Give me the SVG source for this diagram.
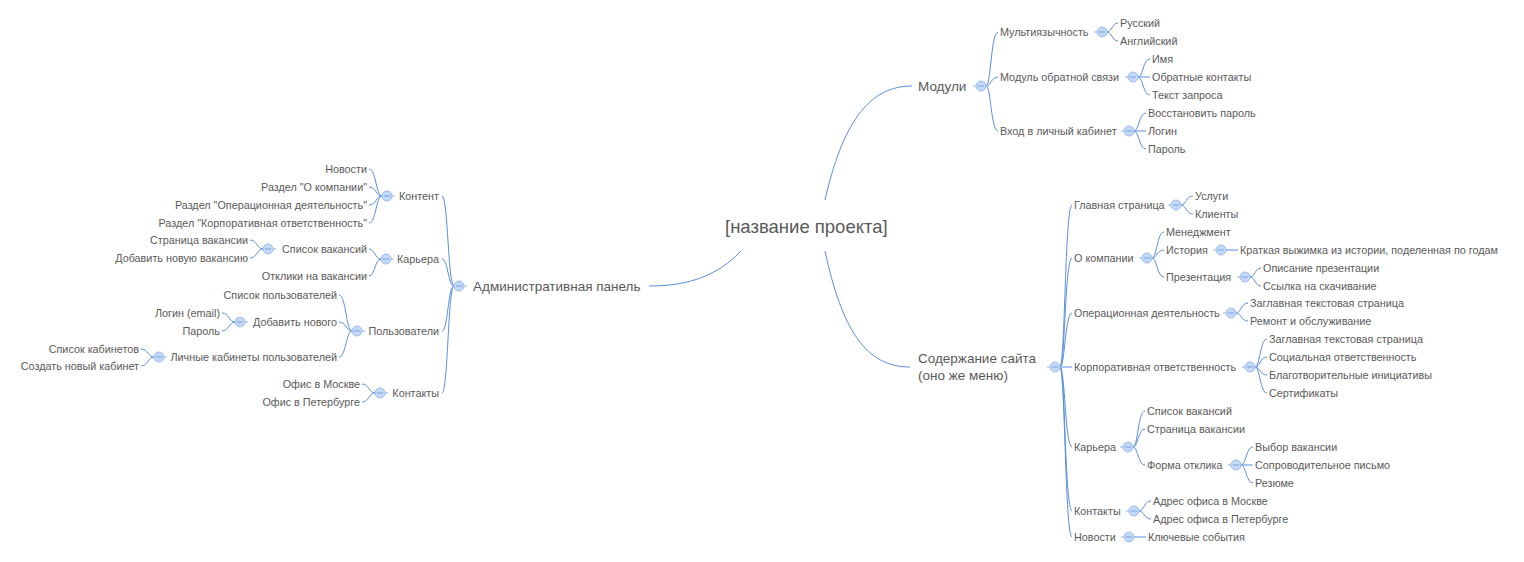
<svg xmlns="http://www.w3.org/2000/svg" width="1524" height="562" viewBox="0 0 1524 562">
<defs>
<style>
text{font-family:"Liberation Sans",Arial,sans-serif;fill:#5a5a5a}
.t{font-size:10.8px}
.m{font-size:13.5px}
.c{font-size:18.5px}
.r{text-anchor:end}
.ln{fill:none;stroke:#5a8fe0;stroke-width:1}
.stub{stroke:#8fb2ea;stroke-width:1}
.btn{fill:#c4d9f8;stroke:#9dbcef;stroke-width:1}
.minus{stroke:#7a9fdc;stroke-width:1}
</style>
<g id="tg">
<line class="stub" x1="-8" y1="0" x2="6" y2="0"/>
<circle class="btn" cx="0" cy="0" r="5"/>
<line class="minus" x1="-3" y1="0" x2="3" y2="0"/>
</g>
<g id="tgL">
<line class="stub" x1="-6" y1="0" x2="8" y2="0"/>
<circle class="btn" cx="0" cy="0" r="5"/>
<line class="minus" x1="-3" y1="0" x2="3" y2="0"/>
</g>
</defs>
<rect width="1524" height="562" fill="#ffffff"/>

<g id="connectors">
<path class="ln" d="M825 200 C842 125 868 86 912 86"/>
<path class="ln" d="M825 251 C842 330 866 367 910 367"/>
<path class="ln" d="M741 251 C718 275 690 286 649 286"/>
<path class="ln" d="M986 86 C991 86 991 32 998 32"/>
<path class="ln" d="M986 86 C991 86 991 77 998 77"/>
<path class="ln" d="M986 86 C991 86 991 131 998 131"/>
<path class="ln" d="M1107 32 C1112 32 1112 23 1118 23"/>
<path class="ln" d="M1107 32 C1112 32 1112 41 1118 41"/>
<path class="ln" d="M1138 77 C1143 77 1143 59 1150 59"/>
<path class="ln" d="M1138 77 L1150 77"/>
<path class="ln" d="M1138 77 C1143 77 1143 95 1150 95"/>
<path class="ln" d="M1134 131 C1139 131 1139 113 1146 113"/>
<path class="ln" d="M1134 131 L1146 131"/>
<path class="ln" d="M1134 131 C1139 131 1139 149 1146 149"/>
<path class="ln" d="M1060 367 C1065 367 1065 205 1072 205"/>
<path class="ln" d="M1060 367 C1065 367 1065 258 1072 258"/>
<path class="ln" d="M1060 367 C1065 367 1065 313 1072 313"/>
<path class="ln" d="M1060 367 L1072 367"/>
<path class="ln" d="M1060 367 C1065 367 1065 447 1072 447"/>
<path class="ln" d="M1060 367 C1065 367 1065 511 1072 511"/>
<path class="ln" d="M1060 367 C1065 367 1065 537 1072 537"/>
<path class="ln" d="M1181 205 C1186 205 1186 196 1193 196"/>
<path class="ln" d="M1181 205 C1186 205 1186 214 1193 214"/>
<path class="ln" d="M1152 258 C1157 258 1157 232 1164 232"/>
<path class="ln" d="M1152 258 C1157 258 1157 250 1164 250"/>
<path class="ln" d="M1152 258 C1157 258 1157 277 1164 277"/>
<path class="ln" d="M1226 250 L1238 250"/>
<path class="ln" d="M1250 277 C1255 277 1255 268 1261 268"/>
<path class="ln" d="M1250 277 C1255 277 1255 286 1261 286"/>
<path class="ln" d="M1236 313 C1241 313 1241 303 1248 303"/>
<path class="ln" d="M1236 313 C1241 313 1241 321 1248 321"/>
<path class="ln" d="M1255 367 C1260 367 1260 339 1267 339"/>
<path class="ln" d="M1255 367 C1260 367 1260 357 1267 357"/>
<path class="ln" d="M1255 367 C1260 367 1260 375 1267 375"/>
<path class="ln" d="M1255 367 C1260 367 1260 393 1267 393"/>
<path class="ln" d="M1133 447 C1138 447 1138 411 1145 411"/>
<path class="ln" d="M1133 447 C1138 447 1138 429 1145 429"/>
<path class="ln" d="M1133 447 C1138 447 1138 465 1145 465"/>
<path class="ln" d="M1241 465 C1246 465 1246 447 1253 447"/>
<path class="ln" d="M1241 465 L1253 465"/>
<path class="ln" d="M1241 465 C1246 465 1246 483 1253 483"/>
<path class="ln" d="M1139 511 C1144 511 1144 501 1151 501"/>
<path class="ln" d="M1139 511 C1144 511 1144 519 1151 519"/>
<path class="ln" d="M1134 537 L1146 537"/>
<path class="ln" d="M454 286 C448 286 448 196 442 196"/>
<path class="ln" d="M454 286 C448 286 448 259 442 259"/>
<path class="ln" d="M454 286 C448 286 448 331 442 331"/>
<path class="ln" d="M454 286 C448 286 448 393 442 393"/>
<path class="ln" d="M382 196 C376 196 376 169 369 169"/>
<path class="ln" d="M382 196 C376 196 376 187 369 187"/>
<path class="ln" d="M382 196 C376 196 376 205 369 205"/>
<path class="ln" d="M382 196 C376 196 376 223 369 223"/>
<path class="ln" d="M381 259 C375 259 375 249 369 249"/>
<path class="ln" d="M381 259 C375 259 375 276 369 276"/>
<path class="ln" d="M263 249 C257 249 257 240 250 240"/>
<path class="ln" d="M263 249 C257 249 257 258 250 258"/>
<path class="ln" d="M352 331 C346 331 346 295 339 295"/>
<path class="ln" d="M352 331 C346 331 346 322 339 322"/>
<path class="ln" d="M352 331 C346 331 346 357 339 357"/>
<path class="ln" d="M235 322 C229 322 229 313 222 313"/>
<path class="ln" d="M235 322 C229 322 229 331 222 331"/>
<path class="ln" d="M154 357 C148 357 148 349 141 349"/>
<path class="ln" d="M154 357 C148 357 148 366 141 366"/>
<path class="ln" d="M375 393 C369 393 369 384 362 384"/>
<path class="ln" d="M375 393 C369 393 369 402 362 402"/>
</g>

<g id="root"><text class="c" x="725" y="233">[название проекта]</text></g>

<g id="n-moduli"><text class="m" x="918" y="91">Модули</text><use href="#tg" x="981" y="86"/></g>
<g id="n-multi"><text class="t" x="1000" y="36">Мультиязычность</text><use href="#tg" x="1102" y="32"/></g>
<g id="n-ru"><text class="t" x="1120" y="27">Русский</text></g>
<g id="n-en"><text class="t" x="1120" y="45">Английский</text></g>
<g id="n-feedback"><text class="t" x="1000" y="81">Модуль обратной связи</text><use href="#tg" x="1133" y="77"/></g>
<g id="n-name"><text class="t" x="1152" y="63">Имя</text></g>
<g id="n-contacts-back"><text class="t" x="1152" y="81">Обратные контакты</text></g>
<g id="n-req"><text class="t" x="1152" y="99">Текст запроса</text></g>
<g id="n-login"><text class="t" x="1000" y="135">Вход в личный кабинет</text><use href="#tg" x="1129" y="131"/></g>
<g id="n-restore"><text class="t" x="1148" y="117">Восстановить пароль</text></g>
<g id="n-login2"><text class="t" x="1148" y="135">Логин</text></g>
<g id="n-pass"><text class="t" x="1148" y="153">Пароль</text></g>

<g id="n-content"><text class="m" x="918" y="363">Содержание сайта</text><text class="m" x="918" y="380">(оно же меню)</text><use href="#tg" x="1055" y="367"/></g>
<g id="n-main"><text class="t" x="1074" y="209">Главная страница</text><use href="#tg" x="1176" y="205"/></g>
<g id="n-services"><text class="t" x="1195" y="200">Услуги</text></g>
<g id="n-clients"><text class="t" x="1195" y="218">Клиенты</text></g>
<g id="n-about"><text class="t" x="1074" y="262">О компании</text><use href="#tg" x="1147" y="258"/></g>
<g id="n-mgmt"><text class="t" x="1166" y="236">Менеджмент</text></g>
<g id="n-history"><text class="t" x="1166" y="254">История</text><use href="#tg" x="1221" y="250"/></g>
<g id="n-history-sum"><text class="t" x="1240" y="254">Краткая выжимка из истории, поделенная по годам</text></g>
<g id="n-pres"><text class="t" x="1166" y="281">Презентация</text><use href="#tg" x="1245" y="277"/></g>
<g id="n-pres-desc"><text class="t" x="1263" y="272">Описание презентации</text></g>
<g id="n-pres-link"><text class="t" x="1263" y="290">Ссылка на скачивание</text></g>
<g id="n-ops"><text class="t" x="1074" y="317">Операционная деятельность</text><use href="#tg" x="1231" y="313"/></g>
<g id="n-ops-title"><text class="t" x="1250" y="307">Заглавная текстовая страница</text></g>
<g id="n-ops-repair"><text class="t" x="1250" y="325">Ремонт и обслуживание</text></g>
<g id="n-csr"><text class="t" x="1074" y="371">Корпоративная ответственность</text><use href="#tg" x="1250" y="367"/></g>
<g id="n-csr-title"><text class="t" x="1269" y="343">Заглавная текстовая страница</text></g>
<g id="n-csr-social"><text class="t" x="1269" y="361">Социальная ответственность</text></g>
<g id="n-csr-charity"><text class="t" x="1269" y="379">Благотворительные инициативы</text></g>
<g id="n-csr-cert"><text class="t" x="1269" y="397">Сертификаты</text></g>
<g id="n-career"><text class="t" x="1074" y="451">Карьера</text><use href="#tg" x="1128" y="447"/></g>
<g id="n-vac-list"><text class="t" x="1147" y="415">Список вакансий</text></g>
<g id="n-vac-page"><text class="t" x="1147" y="433">Страница вакансии</text></g>
<g id="n-form"><text class="t" x="1147" y="469">Форма отклика</text><use href="#tg" x="1236" y="465"/></g>
<g id="n-form-choice"><text class="t" x="1255" y="451">Выбор вакансии</text></g>
<g id="n-form-letter"><text class="t" x="1255" y="469">Сопроводительное письмо</text></g>
<g id="n-form-cv"><text class="t" x="1255" y="487">Резюме</text></g>
<g id="n-contacts"><text class="t" x="1074" y="515">Контакты</text><use href="#tg" x="1134" y="511"/></g>
<g id="n-addr-msk"><text class="t" x="1153" y="505">Адрес офиса в Москве</text></g>
<g id="n-addr-spb"><text class="t" x="1153" y="523">Адрес офиса в Петербурге</text></g>
<g id="n-news"><text class="t" x="1074" y="541">Новости</text><use href="#tg" x="1129" y="537"/></g>
<g id="n-events"><text class="t" x="1148" y="541">Ключевые события</text></g>

<g id="n-admin"><text class="m" x="473" y="291">Административная панель</text><use href="#tgL" x="459" y="286"/></g>
<g id="n-a-content"><text class="t r" x="439" y="200">Контент</text><use href="#tgL" x="387" y="196"/></g>
<g id="n-a-news"><text class="t r" x="367" y="173">Новости</text></g>
<g id="n-a-about"><text class="t r" x="367" y="191">Раздел "О компании"</text></g>
<g id="n-a-ops"><text class="t r" x="367" y="209">Раздел "Операционная деятельность"</text></g>
<g id="n-a-csr"><text class="t r" x="367" y="227">Раздел "Корпоративная ответственность"</text></g>
<g id="n-a-career"><text class="t r" x="439" y="263">Карьера</text><use href="#tgL" x="386" y="259"/></g>
<g id="n-a-vac"><text class="t r" x="367" y="253">Список вакансий</text><use href="#tgL" x="268" y="249"/></g>
<g id="n-a-vac-page"><text class="t r" x="248" y="244">Страница вакансии</text></g>
<g id="n-a-vac-add"><text class="t r" x="248" y="262">Добавить новую вакансию</text></g>
<g id="n-a-resp"><text class="t r" x="367" y="280">Отклики на вакансии</text></g>
<g id="n-a-users"><text class="t r" x="439" y="335">Пользователи</text><use href="#tgL" x="357" y="331"/></g>
<g id="n-a-ulist"><text class="t r" x="337" y="299">Список пользователей</text></g>
<g id="n-a-uadd"><text class="t r" x="337" y="326">Добавить нового</text><use href="#tgL" x="240" y="322"/></g>
<g id="n-a-ulogin"><text class="t r" x="220" y="317">Логин (email)</text></g>
<g id="n-a-upass"><text class="t r" x="220" y="335">Пароль</text></g>
<g id="n-a-cab"><text class="t r" x="337" y="361">Личные кабинеты пользователей</text><use href="#tgL" x="159" y="357"/></g>
<g id="n-a-cablist"><text class="t r" x="139" y="353">Список кабинетов</text></g>
<g id="n-a-cabnew"><text class="t r" x="139" y="370">Создать новый кабинет</text></g>
<g id="n-a-contacts"><text class="t r" x="439" y="397">Контакты</text><use href="#tgL" x="380" y="393"/></g>
<g id="n-a-msk"><text class="t r" x="360" y="388">Офис в Москве</text></g>
<g id="n-a-spb"><text class="t r" x="360" y="406">Офис в Петербурге</text></g>
</svg>
